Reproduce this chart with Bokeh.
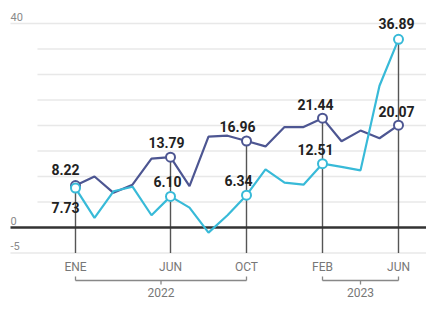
from bokeh.plotting import figure
from bokeh.models import Range1d
from bokeh.embed import file_html
from bokeh.resources import INLINE
from bokeh.core.properties import value

# ---------------- data ----------------
month_index = list(range(18))  # ENE 2022 .. JUN 2023
serie_oscura = [8.22, 10.0, 6.8, 8.4, 13.5, 13.79, 8.1, 17.8, 18.0, 16.96,
                15.9, 19.7, 19.7, 21.44, 16.9, 19.0, 17.5, 20.07]
serie_clara = [7.73, 1.9, 7.1, 8.0, 2.4, 6.10, 3.9, -1.0, 2.4, 6.34,
               11.4, 8.8, 8.4, 12.51, 11.9, 11.2, 27.8, 36.89]
hitos = [0, 5, 9, 13, 17]
hito_labels = ["ENE", "JUN", "OCT", "FEB", "JUN"]
y_grid = [40, 35, 30, 25, 20, 15, 10, 5, -5]
y_tick_values = [40, 0, -5]
y_tick_labels = ["40", "0", "-5"]
year_labels = ["2022", "2023"]
year_start = [0, 13]
year_end = [9, 17]

# ---------------- geometry (figure pixels -> data) ----------------
W, H = 426, 300
PX_MONTH = 19.0
PX_UNIT = 5.1
x_start = -75 / PX_MONTH
x_end = x_start + W / PX_MONTH
y_top = 227 / PX_UNIT
y_bot = y_top - H / PX_UNIT


def px_x(fx):
    return x_start + fx / PX_MONTH


def px_y(fy):
    return y_top - fy / PX_UNIT


DARK = "#4d5692"
CYAN = "#38bad8"
GRID = "#e8e8e8"

p = figure(width=W, height=H, output_backend="svg", toolbar_location=None,
           x_range=Range1d(x_start, x_end), y_range=Range1d(y_bot, y_top),
           x_axis_type=None, y_axis_type=None, min_border=0)
p.outline_line_color = None
p.background_fill_color = "white"
p.border_fill_color = "white"

# grid lines
long_lines = set(y_tick_values)
gx0 = [px_x(10) if v in long_lines else px_x(37) for v in y_grid]
p.segment(x0=gx0, y0=y_grid, x1=[x_end] * len(y_grid), y1=y_grid,
          line_color=GRID, line_width=1.5)

# y tick labels
p.text(x=[px_x(10)] * len(y_tick_values), y=y_tick_values, text=y_tick_labels,
       text_font=value("Roboto"), text_font_size="11px", text_color="#8a8a8a",
       text_align="left", text_baseline="bottom", y_offset=-3)

# vertical guide lines
tops = [max(serie_oscura[i], serie_clara[i]) for i in hitos]
p.segment(x0=hitos, y0=[-5] * len(hitos), x1=hitos, y1=tops,
          line_color="#555555", line_width=1.4)

# zero line
p.segment(x0=[px_x(10)], y0=[0], x1=[x_end], y1=[0],
          line_color="#333333", line_width=2.5)

# series
p.line(month_index, serie_oscura, line_color=DARK, line_width=2.2)
p.line(month_index, serie_clara, line_color=CYAN, line_width=2.2)

p.scatter([month_index[i] for i in hitos], [serie_oscura[i] for i in hitos],
          size=9, fill_color="white", line_color=DARK, line_width=2)
p.scatter([month_index[i] for i in hitos], [serie_clara[i] for i in hitos],
          size=9, fill_color="white", line_color=CYAN, line_width=2)

# value labels (offsets in pixels)
dark_off = [(-10, -16), (-4, -15), (-9, -15), (-7, -14), (-2, -14)]
cyan_off = [(-10, 19), (-3, -15), (-8, -15), (-7, -14), (-2, -16)]
for k, i in enumerate(hitos):
    for series, off in ((serie_oscura, dark_off), (serie_clara, cyan_off)):
        p.text(x=[month_index[i]], y=[series[i]], text=["%.2f" % series[i]],
               x_offset=off[k][0], y_offset=off[k][1],
               text_font=value("Roboto"), text_font_style="bold",
               text_font_size="14px", text_color="#222222",
               text_align="center", text_baseline="middle")

# month labels
p.text(x=hitos, y=[px_y(266)] * len(hitos), text=hito_labels,
       text_font=value("Roboto"), text_font_size="12px", text_color="#777777",
       text_align="center", text_baseline="middle")

# year brackets
by = px_y(280)
by_up = px_y(276)
by_dn = px_y(284)
mids = [(a + b) / 2 for a, b in zip(year_start, year_end)]
p.segment(x0=year_start, y0=[by] * 2, x1=year_end, y1=[by] * 2,
          line_color="#888888", line_width=1.3)
p.segment(x0=year_start + year_end, y0=[by] * 4, x1=year_start + year_end,
          y1=[by_up] * 4, line_color="#888888", line_width=1.3)
p.segment(x0=mids, y0=[by] * 2, x1=mids, y1=[by_dn] * 2,
          line_color="#888888", line_width=1.3)
p.text(x=mids, y=[px_y(292)] * 2, text=year_labels,
       text_font=value("Roboto"), text_font_size="12px", text_color="#777777",
       text_align="center", text_baseline="middle")

open("out.html", "w").write(file_html(p, INLINE))
